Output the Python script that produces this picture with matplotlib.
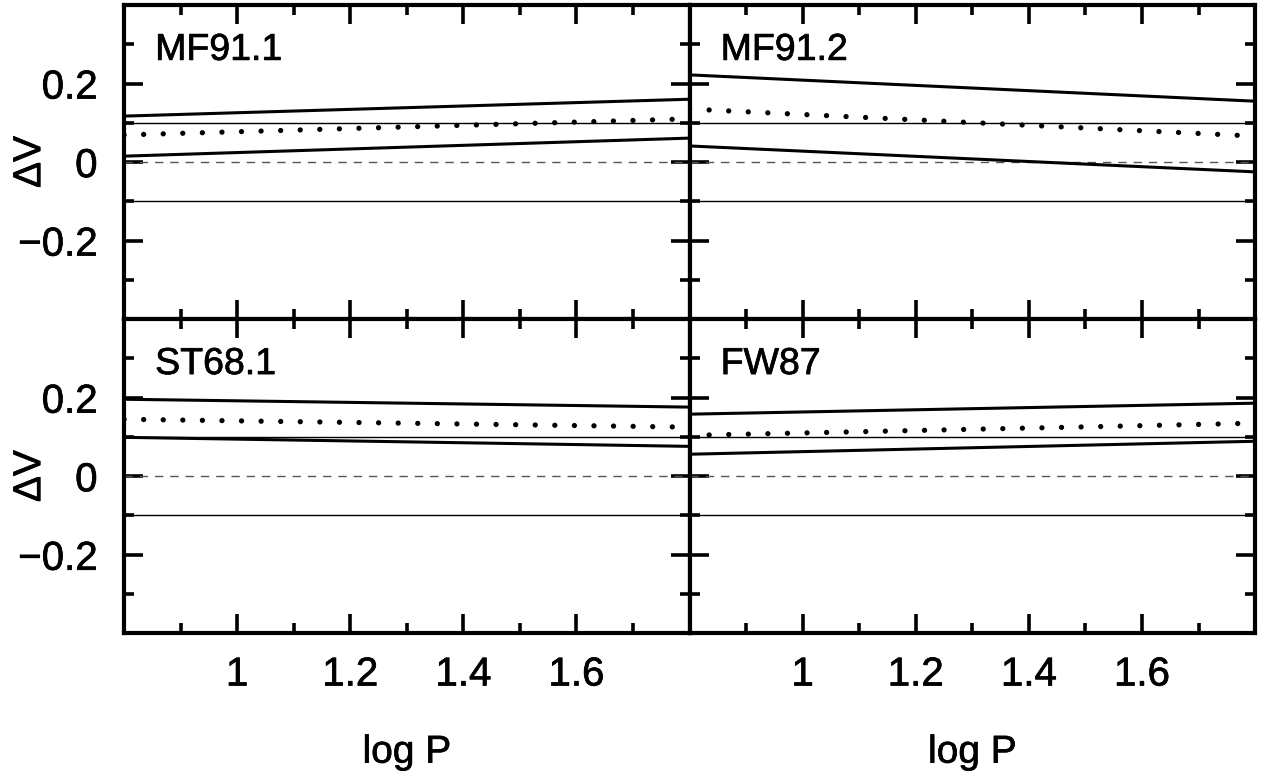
import numpy as np
import matplotlib.pyplot as plt
import matplotlib.patheffects as pe
from matplotlib.ticker import MultipleLocator

plt.rcParams['font.family'] = ['Liberation Sans', 'DejaVu Sans']

# logP end points and Delta V values for each calibration
logp = [0.8, 1.8]
names = ["MF91.1", "MF91.2", "ST68.1", "FW87"]
upper = [[0.117, 0.160], [0.222, 0.155], [0.196, 0.176], [0.158, 0.186]]
middle = [[0.069, 0.110], [0.135, 0.066], [0.145, 0.125], [0.104, 0.135]]
lower = [[0.015, 0.061], [0.041, -0.025], [0.099, 0.076], [0.056, 0.089]]

thick = [pe.withStroke(linewidth=0.5, foreground="black")]

fig, axes = plt.subplots(2, 2, figsize=(12.62, 7.78), dpi=100, sharex=True, sharey=True)
fig.subplots_adjust(left=0.0983, right=0.9945, top=0.9936, bottom=0.186, wspace=0, hspace=0)

for k, ax in enumerate(axes.flat):
    ax.axhline(0.1, color="black", lw=1.0)
    ax.axhline(-0.1, color="black", lw=1.0)
    ax.axhline(0.0, color="#555555", lw=1.0, dashes=(6, 5))
    ax.plot(logp, upper[k], color="black", lw=2.2)
    ax.plot(logp, lower[k], color="black", lw=2.2)
    ax.plot(logp, middle[k], color="black", lw=3.8, dashes=(0.01, 3.7),
            dash_capstyle="round")
    ax.text(0.055, 0.857, names[k], transform=ax.transAxes, fontsize=27,
            va="center", ha="left", path_effects=thick)
    ax.set_xlim(0.8, 1.8)
    ax.set_ylim(-0.4, 0.4)
    ax.xaxis.set_major_locator(MultipleLocator(0.2))
    ax.xaxis.set_minor_locator(MultipleLocator(0.1))
    ax.yaxis.set_major_locator(MultipleLocator(0.2))
    ax.yaxis.set_minor_locator(MultipleLocator(0.1))
    ax.tick_params(which="both", direction="in", top=True, right=True, width=2.6,
                   labelsize=29)
    ax.tick_params(axis="x", pad=16)
    ax.tick_params(axis="y", pad=19)
    ax.tick_params(which="major", length=14)
    ax.tick_params(which="minor", length=7)
    for s in ax.spines.values():
        s.set_linewidth(3.0)

axes[0, 0].set_xticks([1, 1.2, 1.4, 1.6])
axes[0, 0].set_xticklabels(["1", "1.2", "1.4", "1.6"])
axes[0, 0].set_yticks([-0.2, 0, 0.2])
axes[0, 0].set_yticklabels(["\u22120.2", "0", "0.2"])

for ax in axes.flat:
    for lab in ax.get_xticklabels() + ax.get_yticklabels():
        lab.set_path_effects(thick)

for ax in axes[:, 0]:
    ax.text(-0.166, 0.5, "\u0394V", transform=ax.transAxes, fontsize=28,
            rotation=90, ha="center", va="center", path_effects=thick)
for ax in axes[1, :]:
    ax.text(0.5, -0.38, "log P", transform=ax.transAxes, fontsize=28,
            ha="center", va="center", path_effects=thick)

fig.savefig("out.png", dpi=100)
